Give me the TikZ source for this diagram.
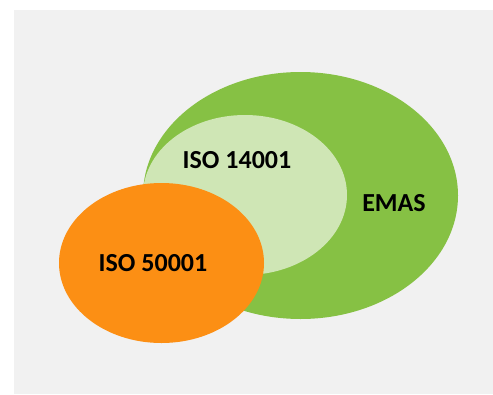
\documentclass[tikz,border=0pt]{standalone}
\usepackage{fontspec}
\setmainfont{Carlito}
\definecolor{bgc}{HTML}{F1F1F1}
\definecolor{emasc}{HTML}{86C144}
\definecolor{isoc}{HTML}{CFE6B5}
\definecolor{orc}{HTML}{FC8F14}
\begin{document}
\begin{tikzpicture}[x=1pt,y=-1pt,
  lbl/.style={font=\bfseries\fontsize{26}{30}\selectfont, text=black, inner sep=0pt}]
\useasboundingbox (0,0) rectangle (493,394);
\fill[white] (0,0) rectangle (493,394);
\fill[bgc] (14,10) rectangle (493,394);
\fill[emasc] (300.5,195.5) ellipse [x radius=157.5, y radius=123.5];
\fill[isoc] (245,195) ellipse [x radius=102, y radius=80];
\fill[orc] (161.5,263) ellipse [x radius=102.5, y radius=80];
\node[lbl] (iso14) at (237,160) {ISO 14001};
\node[lbl] (emas) at (394,203) {EMAS};
\node[lbl] (iso50) at (153,263) {ISO 50001};
\end{tikzpicture}
\end{document}
